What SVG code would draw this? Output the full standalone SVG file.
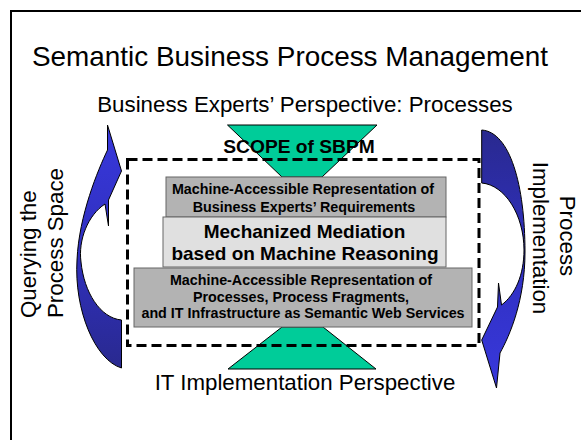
<svg xmlns="http://www.w3.org/2000/svg" width="581" height="440" viewBox="0 0 581 440">
<style>
text{font-family:"Liberation Sans",Arial,sans-serif;fill:#000}
.lbl{font-size:22.3px}
.b{font-weight:bold}
.trap{fill:#00cc99;stroke:#000;stroke-width:1}
.arrow{stroke:#000;stroke-width:1}
.box{stroke:#666;stroke-width:1}
.dark{fill:#b3b3b3}
.light{fill:#e0e0e0}
</style>
<defs>
<linearGradient id="gUp" x1="0" y1="0" x2="0" y2="1">
<stop offset="0" stop-color="#3838dc"/>
<stop offset="0.5" stop-color="#3030c0"/>
<stop offset="1" stop-color="#29298f"/>
</linearGradient>
<linearGradient id="gDown" x1="0" y1="0" x2="0" y2="1">
<stop offset="0" stop-color="#29298f"/>
<stop offset="0.5" stop-color="#3030c0"/>
<stop offset="1" stop-color="#3838dc"/>
</linearGradient>
</defs>
<rect id="frame" x="11" y="11" width="620" height="500" fill="#fff" stroke="#000" stroke-width="2"/>
<g id="title"><text x="290" y="65.5" font-size="27.9" text-anchor="middle">Semantic Business Process Management</text></g>
<g id="business-perspective"><text class="lbl" x="305" y="112" text-anchor="middle">Business Experts’ Perspective: Processes</text></g>
<g id="top-trapezoid"><polygon class="trap" points="227.5,125 377,125 322,177 282,177"/></g>
<g id="bottom-trapezoid"><polygon class="trap" points="282,327 323,327 376,369 228,369"/></g>
<g id="connectors">
<path id="querying-arrow" class="arrow" fill="url(#gUp)" d="M107.5,125 L121.5,171 L108.5,200 L108.5,226 L105,204 C88,215 78,240 81,262 C84,292 100,318 121.5,320 L121.5,368 C95,360 74,310 77,260 C79,215 98,170 107.5,150 Z"/>
<path id="implementation-arrow" class="arrow" fill="url(#gDown)" d="M481.7,130 C510,132 525,185 525,252 C525,300 510,335 500,353 L496.5,388 L481.7,340 L497.5,307 L498.5,283 L501.5,305 C515,295 524,275 524,250 C524,215 505,185 481.7,183 Z"/>
</g>
<g id="requirements-box">
<rect class="box dark" x="166" y="177" width="280" height="40"/>
<text class="b" font-size="14.3" x="303" y="194" text-anchor="middle">Machine-Accessible Representation of</text>
<text class="b" font-size="14.3" x="304" y="211.5" text-anchor="middle">Business Experts’ Requirements</text>
</g>
<g id="mediation-box">
<rect class="box light" x="163" y="217" width="283" height="50"/>
<text class="b" font-size="19" x="304.5" y="237.5" text-anchor="middle">Mechanized Mediation</text>
<text class="b" font-size="19" x="305" y="260" text-anchor="middle">based on Machine Reasoning</text>
</g>
<g id="services-box">
<rect class="box dark" x="134" y="268" width="338" height="59"/>
<text class="b" font-size="14.3" x="301" y="285" text-anchor="middle">Machine-Accessible Representation of</text>
<text class="b" font-size="14.3" x="301" y="301.7" text-anchor="middle">Processes, Process Fragments,</text>
<text class="b" font-size="14.3" x="303" y="318.3" text-anchor="middle">and IT Infrastructure as Semantic Web Services</text>
</g>
<g id="scope">
<rect x="127.5" y="159.5" width="351.5" height="186" fill="none" stroke="#000" stroke-width="3" stroke-dasharray="10,5"/>
<text class="b" font-size="19.2" x="299" y="153.3" text-anchor="middle">SCOPE of SBPM</text>
</g>
<g id="it-perspective"><text class="lbl" x="305" y="390" text-anchor="middle">IT Implementation Perspective</text></g>
<g id="querying-label">
<text class="lbl" x="35.8" y="318" transform="rotate(-90 35.8 318)">Querying the</text>
<text class="lbl" x="62.5" y="318" transform="rotate(-90 62.5 318)">Process Space</text>
</g>
<g id="implementation-label">
<text class="lbl" x="560" y="236" text-anchor="middle" transform="rotate(90 560 236)">Process</text>
<text class="lbl" x="533" y="238" text-anchor="middle" transform="rotate(90 533 238)">Implementation</text>
</g>
</svg>
